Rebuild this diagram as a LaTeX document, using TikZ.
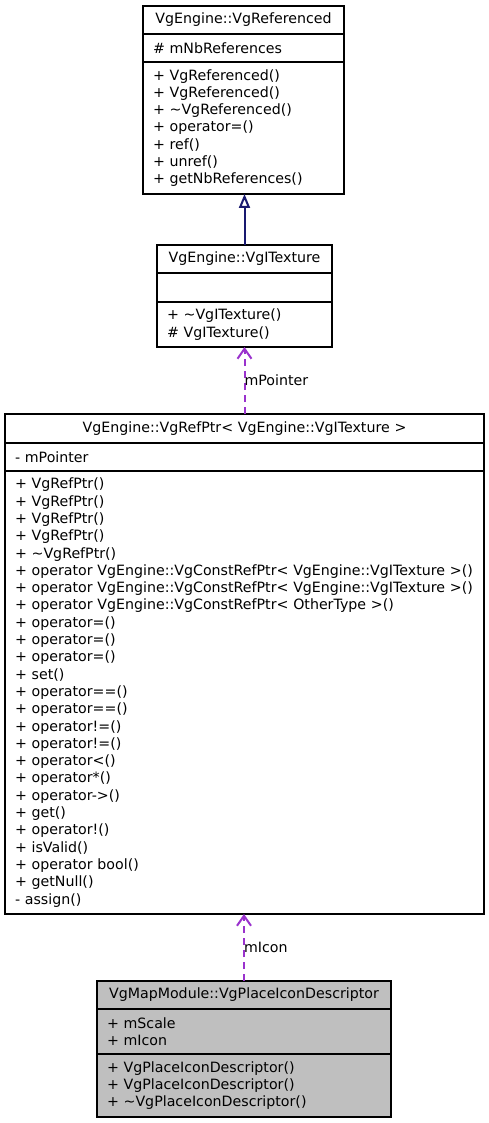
\documentclass[tikz,border=0pt]{standalone}
\usepackage{fontspec}
\setmainfont{DejaVu Sans}
\usepackage{tikz}
\usetikzlibrary{arrows.meta}
\definecolor{inheritblue}{RGB}{25,25,112}
\definecolor{usagepurple}{RGB}{154,50,205}
\definecolor{focusgrey}{RGB}{191,191,191}

\tikzset{
  umlpart/.style={draw=black, line width=1.6pt, anchor=north west, outer sep=0pt,
    inner xsep=10pt, inner ysep=0pt, align=left,
    font=\fontsize{14.2}{17.3}\selectfont},
  umltitle/.style={umlpart, align=center},
  inherit/.style={draw=inheritblue, line width=2pt,
    -{Triangle[open, length=14pt, width=11pt]}},
  usage/.style={draw=usagepurple, line width=2pt, dash pattern=on 7pt off 5pt,
    -{Straight Barb[length=10pt, width=14pt]}},
  rolelabel/.style={anchor=west, inner sep=0pt, xshift=-1pt,
    font=\fontsize{14.2}{17.3}\selectfont},
}

\begin{document}
\begin{tikzpicture}[x=1pt, y=-1pt]
  \useasboundingbox (0,0) rectangle (488,1123);

  % base class
  \node[umltitle, minimum height=28pt, text width=181pt] (refTitle) at (143,6) {VgEngine::VgReferenced};
  \node[umlpart, minimum height=28pt, text width=181pt] (refAttr) at (refTitle.south west) {\# mNbReferences};
  \node[umlpart, minimum height=132pt, text width=181pt] (refOps) at (refAttr.south west) {%
    + VgReferenced()\\
    + VgReferenced()\\
    + \textasciitilde VgReferenced()\\
    + operator=()\\
    + ref()\\
    + unref()\\
    + getNbReferences()};

  % texture interface
  \node[umltitle, minimum height=28pt, text width=155pt] (texTitle) at (157,245) {VgEngine::VgITexture};
  \node[umlpart, minimum height=29pt, text width=155pt] (texAttr) at (texTitle.south west) {};
  \node[umlpart, minimum height=45pt, text width=155pt] (texOps) at (texAttr.south west) {%
    + \textasciitilde VgITexture()\\
    \# VgITexture()};

  % smart pointer
  \node[umltitle, minimum height=29pt, text width=459pt] (ptrTitle) at (5,414) {VgEngine::VgRefPtr< VgEngine::VgITexture >};
  \node[umlpart, minimum height=28pt, text width=459pt] (ptrAttr) at (ptrTitle.south west) {- mPointer};
  \node[umlpart, minimum height=443pt, text width=459pt] (ptrOps) at (ptrAttr.south west) {%
    + VgRefPtr()\\
    + VgRefPtr()\\
    + VgRefPtr()\\
    + VgRefPtr()\\
    + \textasciitilde VgRefPtr()\\
    + operator VgEngine::VgConstRefPtr< VgEngine::VgITexture >()\\
    + operator VgEngine::VgConstRefPtr< VgEngine::VgITexture >()\\
    + operator VgEngine::VgConstRefPtr< OtherType >()\\
    + operator=()\\
    + operator=()\\
    + operator=()\\
    + set()\\
    + operator==()\\
    + operator==()\\
    + operator!=()\\
    + operator!=()\\
    + operator<()\\
    + operator*()\\
    + operator->()\\
    + get()\\
    + operator!()\\
    + isValid()\\
    + operator bool()\\
    + getNull()\\
    - assign()};

  % described class
  \node[umltitle, fill=focusgrey, minimum height=28pt, text width=274pt] (descTitle) at (97,981) {VgMapModule::VgPlaceIconDescriptor};
  \node[umlpart, fill=focusgrey, minimum height=45pt, text width=274pt] (descAttr) at (descTitle.south west) {%
    + mScale\\
    + mIcon};
  \node[umlpart, fill=focusgrey, minimum height=63pt, text width=274pt] (descOps) at (descAttr.south west) {%
    + VgPlaceIconDescriptor()\\
    + VgPlaceIconDescriptor()\\
    + \textasciitilde VgPlaceIconDescriptor()};

  % relations
  \draw[inherit] (texTitle.north) -- (texTitle.north |- refOps.south);
  \draw[usage] (ptrTitle.north) -- (ptrTitle.north |- texOps.south)
    node[midway, rolelabel] (pointerRole) {mPointer};
  \draw[usage] (descTitle.north) -- (descTitle.north |- ptrOps.south)
    node[midway, rolelabel] (iconRole) {mIcon};
\end{tikzpicture}
\end{document}
